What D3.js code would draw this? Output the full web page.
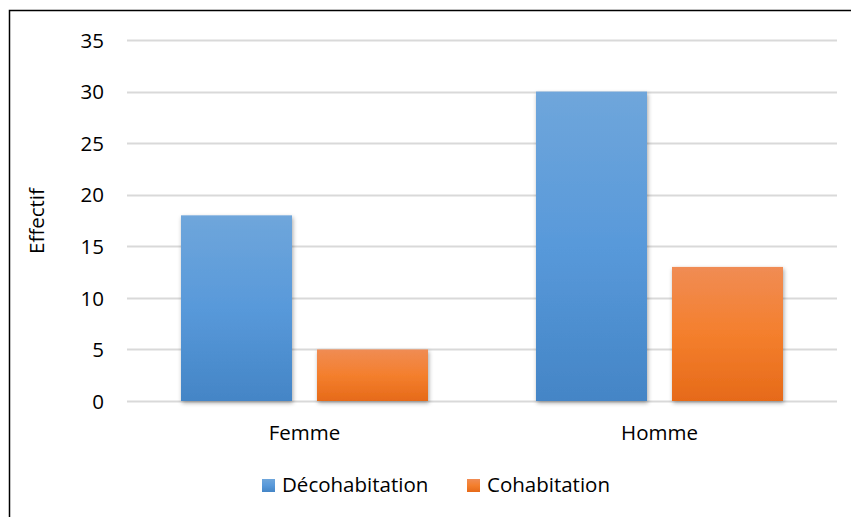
<!DOCTYPE html>
<html>
<head>
<meta charset="utf-8">
<script src="https://cdn.jsdelivr.net/npm/d3@7"></script>
<style>
  html, body { margin: 0; padding: 0; background: #fff; }
  svg { display: block; }
  text { font-family: "Open Sans", "Noto Sans", sans-serif; fill: #000; }
</style>
</head>
<body>
<script>
// Effectif par sexe et mode de résidence
const categories = ["Femme", "Homme"];
const seriesNames = ["Décohabitation", "Cohabitation"];
const decohabitation = [18, 30];
const cohabitation = [5, 13];
const yTicks = [0, 5, 10, 15, 20, 25, 30, 35];

const W = 851, H = 517;
const FS = 20.5;
const svg = d3.select("body").append("svg").attr("width", W).attr("height", H);

const defs = svg.append("defs");
function grad(id, top, mid, bottom) {
  const g = defs.append("linearGradient").attr("id", id)
    .attr("x1", 0).attr("y1", 0).attr("x2", 0).attr("y2", 1);
  g.append("stop").attr("offset", "0%").attr("stop-color", top);
  g.append("stop").attr("offset", "50%").attr("stop-color", mid);
  g.append("stop").attr("offset", "100%").attr("stop-color", bottom);
}
grad("gBlue", "#6fa6db", "#5899da", "#4485c6");
grad("gOrange", "#f08c54", "#f47f2d", "#e66a19");

const shadow = defs.append("filter").attr("id", "shadow")
  .attr("x", "-20%").attr("y", "-10%").attr("width", "140%").attr("height", "130%");
shadow.append("feDropShadow").attr("dx", 1).attr("dy", 2).attr("stdDeviation", 2.2)
  .attr("flood-color", "#000").attr("flood-opacity", 0.35);

// chart frame (top and left edges)
svg.append("path").attr("d", `M9.5,${H} V10.5 H${W}`)
  .attr("fill", "none").attr("stroke", "#000").attr("stroke-width", 1.5);

const plot = { left: 127, right: 837, top: 40, bottom: 401 };

const x = d3.scaleBand().domain(categories).range([plot.left, plot.right]);
const y = d3.scaleLinear().domain([0, 35]).range([plot.bottom, plot.top]);

const barW = 111, gap = 25;
const sub = d3.scaleOrdinal().domain(seriesNames)
  .range([-(barW + gap) / 2 - barW / 2, (barW + gap) / 2 - barW / 2]);

// gridlines
svg.append("g").selectAll("line").data(yTicks).join("line")
  .attr("x1", plot.left).attr("x2", plot.right)
  .attr("y1", d => Math.round(y(d)) + 0.5).attr("y2", d => Math.round(y(d)) + 0.5)
  .attr("stroke", "#d9d9d9").attr("stroke-width", 2);

// y axis labels
const yAxis = d3.axisLeft(y).tickValues(yTicks).tickSize(0).tickPadding(0);
const ya = svg.append("g").attr("transform", `translate(104,0)`).call(yAxis);
ya.select(".domain").remove();
ya.selectAll("text").attr("font-size", FS).attr("dy", "0.35em")
  .style("font-family", "'Open Sans', sans-serif").attr("fill", "#000");

// y title
svg.append("text").attr("transform", `translate(44,221) rotate(-90)`)
  .attr("text-anchor", "middle").attr("font-size", FS).text("Effectif");

// bars
const series = [
  { name: seriesNames[0], values: decohabitation, fill: "url(#gBlue)" },
  { name: seriesNames[1], values: cohabitation, fill: "url(#gOrange)" }
];
series.forEach(s => {
  svg.append("g").selectAll("rect").data(categories).join("rect")
    .attr("x", (c) => x(c) + x.bandwidth() / 2 + sub(s.name))
    .attr("y", (c, i) => y(s.values[i]))
    .attr("width", barW)
    .attr("height", (c, i) => y(0) - y(s.values[i]))
    .attr("fill", s.fill)
    .attr("filter", "url(#shadow)");
});

// category labels
const xAxis = d3.axisBottom(x).tickSize(0).tickPadding(0);
const xa = svg.append("g").attr("transform", `translate(0,${plot.bottom + 39})`).call(xAxis);
xa.select(".domain").remove();
xa.selectAll("text").attr("font-size", FS).attr("dy", 0)
  .style("font-family", "'Open Sans', sans-serif").attr("fill", "#000");

// legend
const legend = [
  { name: seriesNames[0], fill: "url(#gBlue)", x: 262 },
  { name: seriesNames[1], fill: "url(#gOrange)", x: 467 }
];
const lg = svg.append("g");
legend.forEach(l => {
  lg.append("rect").attr("x", l.x).attr("y", 479).attr("width", 13).attr("height", 13).attr("fill", l.fill);
  lg.append("text").attr("x", l.x + 20).attr("y", 492).attr("font-size", FS).text(l.name);
});
</script>
</body>
</html>
